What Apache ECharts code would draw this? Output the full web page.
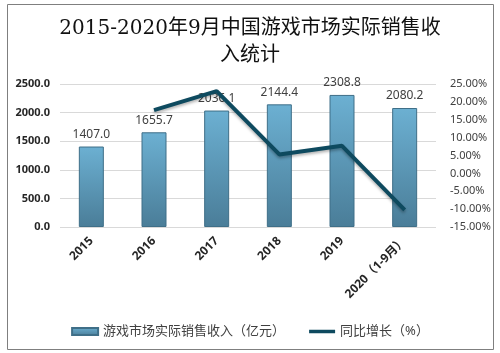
<!DOCTYPE html>
<html lang="zh">
<head>
  <meta charset="utf-8">
  <style>
    html, body { margin: 0; padding: 0; background: #fff; }
    #container { width: 500px; height: 353px; }
  </style>
  <title>2015-2020年9月中国游戏市场实际销售收入统计</title>
</head>
<body>
  <div id="container"></div>
  <script src="https://cdn.jsdelivr.net/npm/echarts@6/dist/echarts.min.js"></script>
  <script>
    var years = ['2015', '2016', '2017', '2018', '2019', '2020（1-9月）'];
    var revenue = [1407.0, 1655.7, 2036.1, 2144.4, 2308.8, 2080.2];
    var growth = [null, 17.7, 23.0, 5.3, 7.7, -10.2];
    var revenueName = '游戏市场实际销售收入（亿元）';
    var growthName = '同比增长（%）';

    var chart = echarts.init(document.getElementById('container'));
    var cjk = '"DejaVu Serif", "Noto Sans CJK SC", serif';
    var sans = '"Noto Sans", "Noto Sans CJK SC", sans-serif';

    chart.setOption({
      animation: false,
      graphic: [{
        type: 'rect',
        shape: { x: 7.5, y: 4.5, width: 486, height: 345 },
        style: { fill: 'none', stroke: '#7f7f7f', lineWidth: 1 },
        silent: true
      }],
      title: {
        text: '2015-2020年9月中国游戏市场实际销售收\n入统计',
        left: 'center',
        top: 10,
        textStyle: {
          fontFamily: cjk,
          fontSize: 20,
          fontWeight: 'normal',
          color: '#111',
          lineHeight: 27
        }
      },
      legend: {
        bottom: 10,
        left: 'center',
        itemWidth: 26,
        itemHeight: 7,
        itemGap: 24,
        textStyle: { fontFamily: sans, fontSize: 13, color: '#404040' },
        data: [
          { name: revenueName, icon: 'rect' },
          { name: growthName, icon: 'path://M0,0 H26 V3.5 H0 Z' }
        ]
      },
      grid: { left: 60, right: 64, top: 84, bottom: 126 },
      xAxis: {
        type: 'category',
        data: years,
        axisLine: { show: false },
        axisTick: { show: false },
        axisLabel: {
          rotate: 45,
          interval: 0,
          margin: 12,
          fontFamily: sans,
          fontSize: 12,
          fontWeight: 'bold',
          color: '#262626'
        }
      },
      yAxis: [{
        type: 'value',
        min: 0,
        max: 2500,
        interval: 500,
        axisLine: { show: false },
        axisTick: { show: false },
        splitLine: { lineStyle: { color: '#d9d9d9' } },
        axisLabel: {
          formatter: function (v) { return v.toFixed(1); },
          fontFamily: sans,
          fontSize: 11,
          fontWeight: 'bold',
          color: '#262626',
          margin: 10
        }
      }, {
        type: 'value',
        min: -15,
        max: 25,
        interval: 5,
        axisLine: { show: false },
        axisTick: { show: false },
        splitLine: { show: false },
        axisLabel: {
          formatter: function (v) { return v.toFixed(2) + '%'; },
          fontFamily: sans,
          fontSize: 11,
          color: '#404040',
          margin: 14
        }
      }],
      series: [{
        name: revenueName,
        type: 'bar',
        data: revenue,
        barWidth: 25,
        itemStyle: {
          color: new echarts.graphic.LinearGradient(0, 0, 0, 1, [
            { offset: 0, color: '#6cb0d2' },
            { offset: 1, color: '#4a7d98' }
          ]),
          borderColor: '#3f6f88',
          borderWidth: 1
        },
        label: {
          show: true,
          position: 'top',
          distance: 6,
          formatter: function (p) { return p.value.toFixed(1); },
          fontFamily: sans,
          fontSize: 12,
          color: '#404040'
        }
      }, {
        name: growthName,
        type: 'line',
        yAxisIndex: 1,
        data: growth,
        symbol: 'none',
        lineStyle: {
          color: '#0e4a5f',
          width: 4,
          shadowColor: 'rgba(0,0,0,0.3)',
          shadowBlur: 3,
          shadowOffsetY: 2
        },
        itemStyle: { color: '#0e4a5f' }
      }]
    });
  </script>
</body>
</html>
